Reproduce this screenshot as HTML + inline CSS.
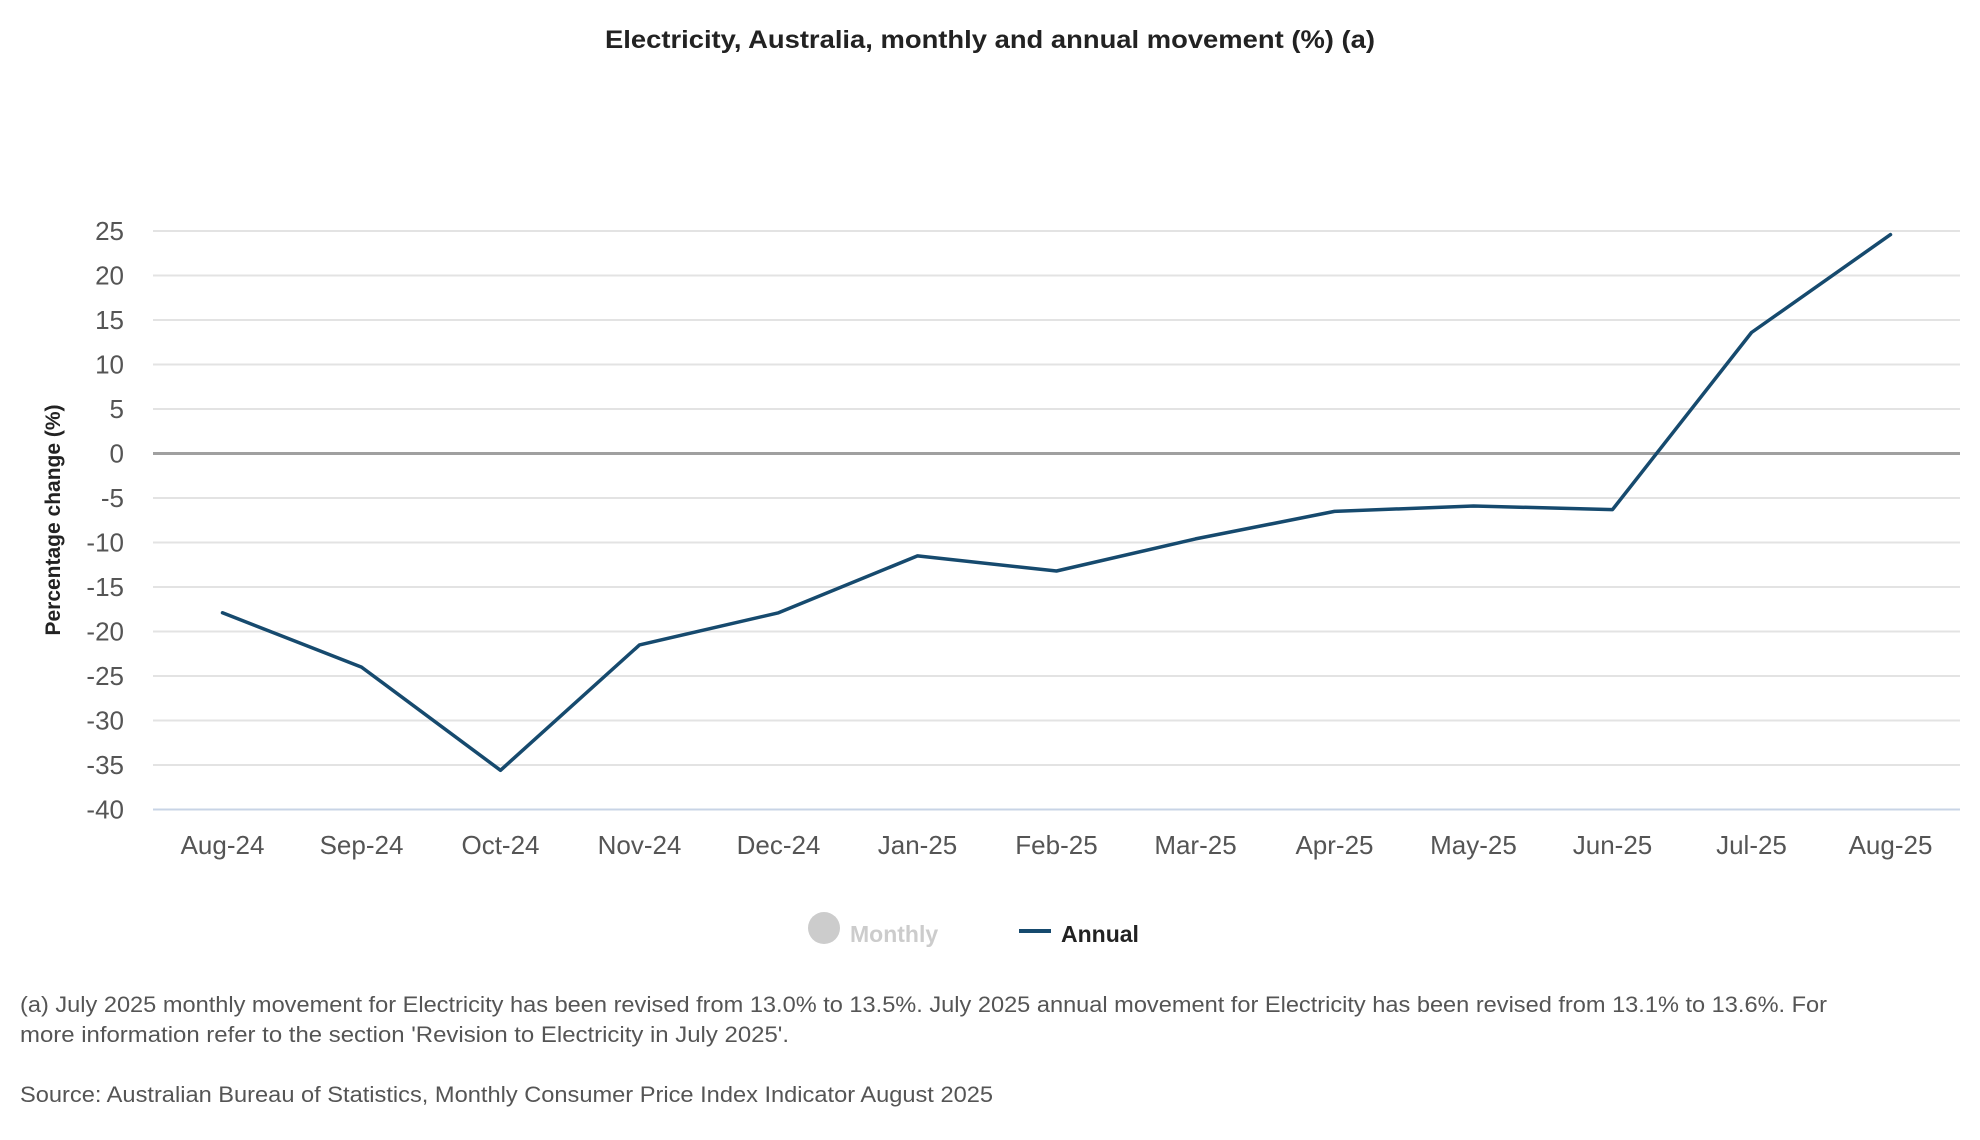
<!DOCTYPE html>
<html><head><meta charset="utf-8"><style>
html,body{margin:0;padding:0;background:#fff;}
svg{display:block;font-family:"Liberation Sans",sans-serif;}
</style></head><body>
<svg id="chart" width="1980" height="1140" viewBox="0 0 1980 1140">
<text x="990" y="48" text-anchor="middle" font-size="25" font-weight="bold" fill="#222" textLength="770" lengthAdjust="spacingAndGlyphs">Electricity, Australia, monthly and annual movement (%) (a)</text>
<g id="grid"></g>
<g id="yticks"></g>
<g id="xticks"></g>
<text transform="translate(60,520) rotate(-90)" text-anchor="middle" font-size="21" font-weight="bold" fill="#222">Percentage change (%)</text>
<g id="series"></g>
<g>
<g>
<circle cx="824" cy="928" r="16" fill="#cccccc"/>
<text x="850" y="942" font-size="23" font-weight="bold" fill="#cccccc">Monthly</text>
</g>
<g>
<line x1="1019" y1="931" x2="1051" y2="931" stroke="#164a6e" stroke-width="4"/>
<text x="1061" y="942" font-size="23" font-weight="bold" fill="#222">Annual</text>
</g>
</g>
<text x="20" y="1012" font-size="22" fill="#555" textLength="1807" lengthAdjust="spacingAndGlyphs">(a) July 2025 monthly movement for Electricity has been revised from 13.0% to 13.5%. July 2025 annual movement for Electricity has been revised from 13.1% to 13.6%. For</text>
<text x="20" y="1042" font-size="22" fill="#555" textLength="769" lengthAdjust="spacingAndGlyphs">more information refer to the section 'Revision to Electricity in July 2025'.</text>
<text x="20" y="1102" font-size="22" fill="#555" textLength="973" lengthAdjust="spacingAndGlyphs">Source: Australian Bureau of Statistics, Monthly Consumer Price Index Indicator August 2025</text>
</svg>
<script>
const categories = ["Aug-24","Sep-24","Oct-24","Nov-24","Dec-24","Jan-25","Feb-25","Mar-25","Apr-25","May-25","Jun-25","Jul-25","Aug-25"];
const annualValues = [-17.9,-24.0,-35.6,-21.5,-17.9,-11.5,-13.2,-9.6,-6.5,-5.9,-6.3,13.6,24.6];
const yTicks = [25,20,15,10,5,0,-5,-10,-15,-20,-25,-30,-35,-40];

const NS = "http://www.w3.org/2000/svg";
const L = 153, R = 1960, T = 231, B = 809.5;
const yMin = -40, yMax = 25;
function y(v){ return B - (v - yMin) / (yMax - yMin) * (B - T); }
function x(i){ const w = (R - L) / categories.length; return L + w * (i + 0.5); }
function mk(tag, attrs, parent){ const e = document.createElementNS(NS, tag); for (const k in attrs) e.setAttribute(k, attrs[k]); parent.appendChild(e); return e; }

const grid = document.getElementById('grid');
const yt = document.getElementById('yticks');
yTicks.forEach(v => {
  const isZero = v === 0, isMin = v === yMin;
  const ln = mk('line', {x1:L, x2:R, y1:y(v), y2:y(v), stroke: isZero ? '#a0a0a0' : (isMin ? '#c8d4e6' : '#e3e3e3'), 'stroke-width': isZero ? 3 : 2}, grid);
  
  
  const t = mk('text', {x:124, y:y(v)+9, 'text-anchor':'end', 'font-size':26, fill:'#555'}, yt);
  t.textContent = v;
  
  
});
const xt = document.getElementById('xticks');
categories.forEach((c, i) => {
  const t = mk('text', {x:x(i), y:854, 'text-anchor':'middle', 'font-size':26, fill:'#555'}, xt);
  t.textContent = c;
  
  
});
const pts = annualValues.map((v, i) => x(i).toFixed(1) + ',' + y(v).toFixed(1)).join(' ');
const pl = mk('polyline', {points: pts, fill:'none', stroke:'#164a6e', 'stroke-width':3.5, 'stroke-linejoin':'round', 'stroke-linecap':'round'}, document.getElementById('series'));


</script>
</body></html>
